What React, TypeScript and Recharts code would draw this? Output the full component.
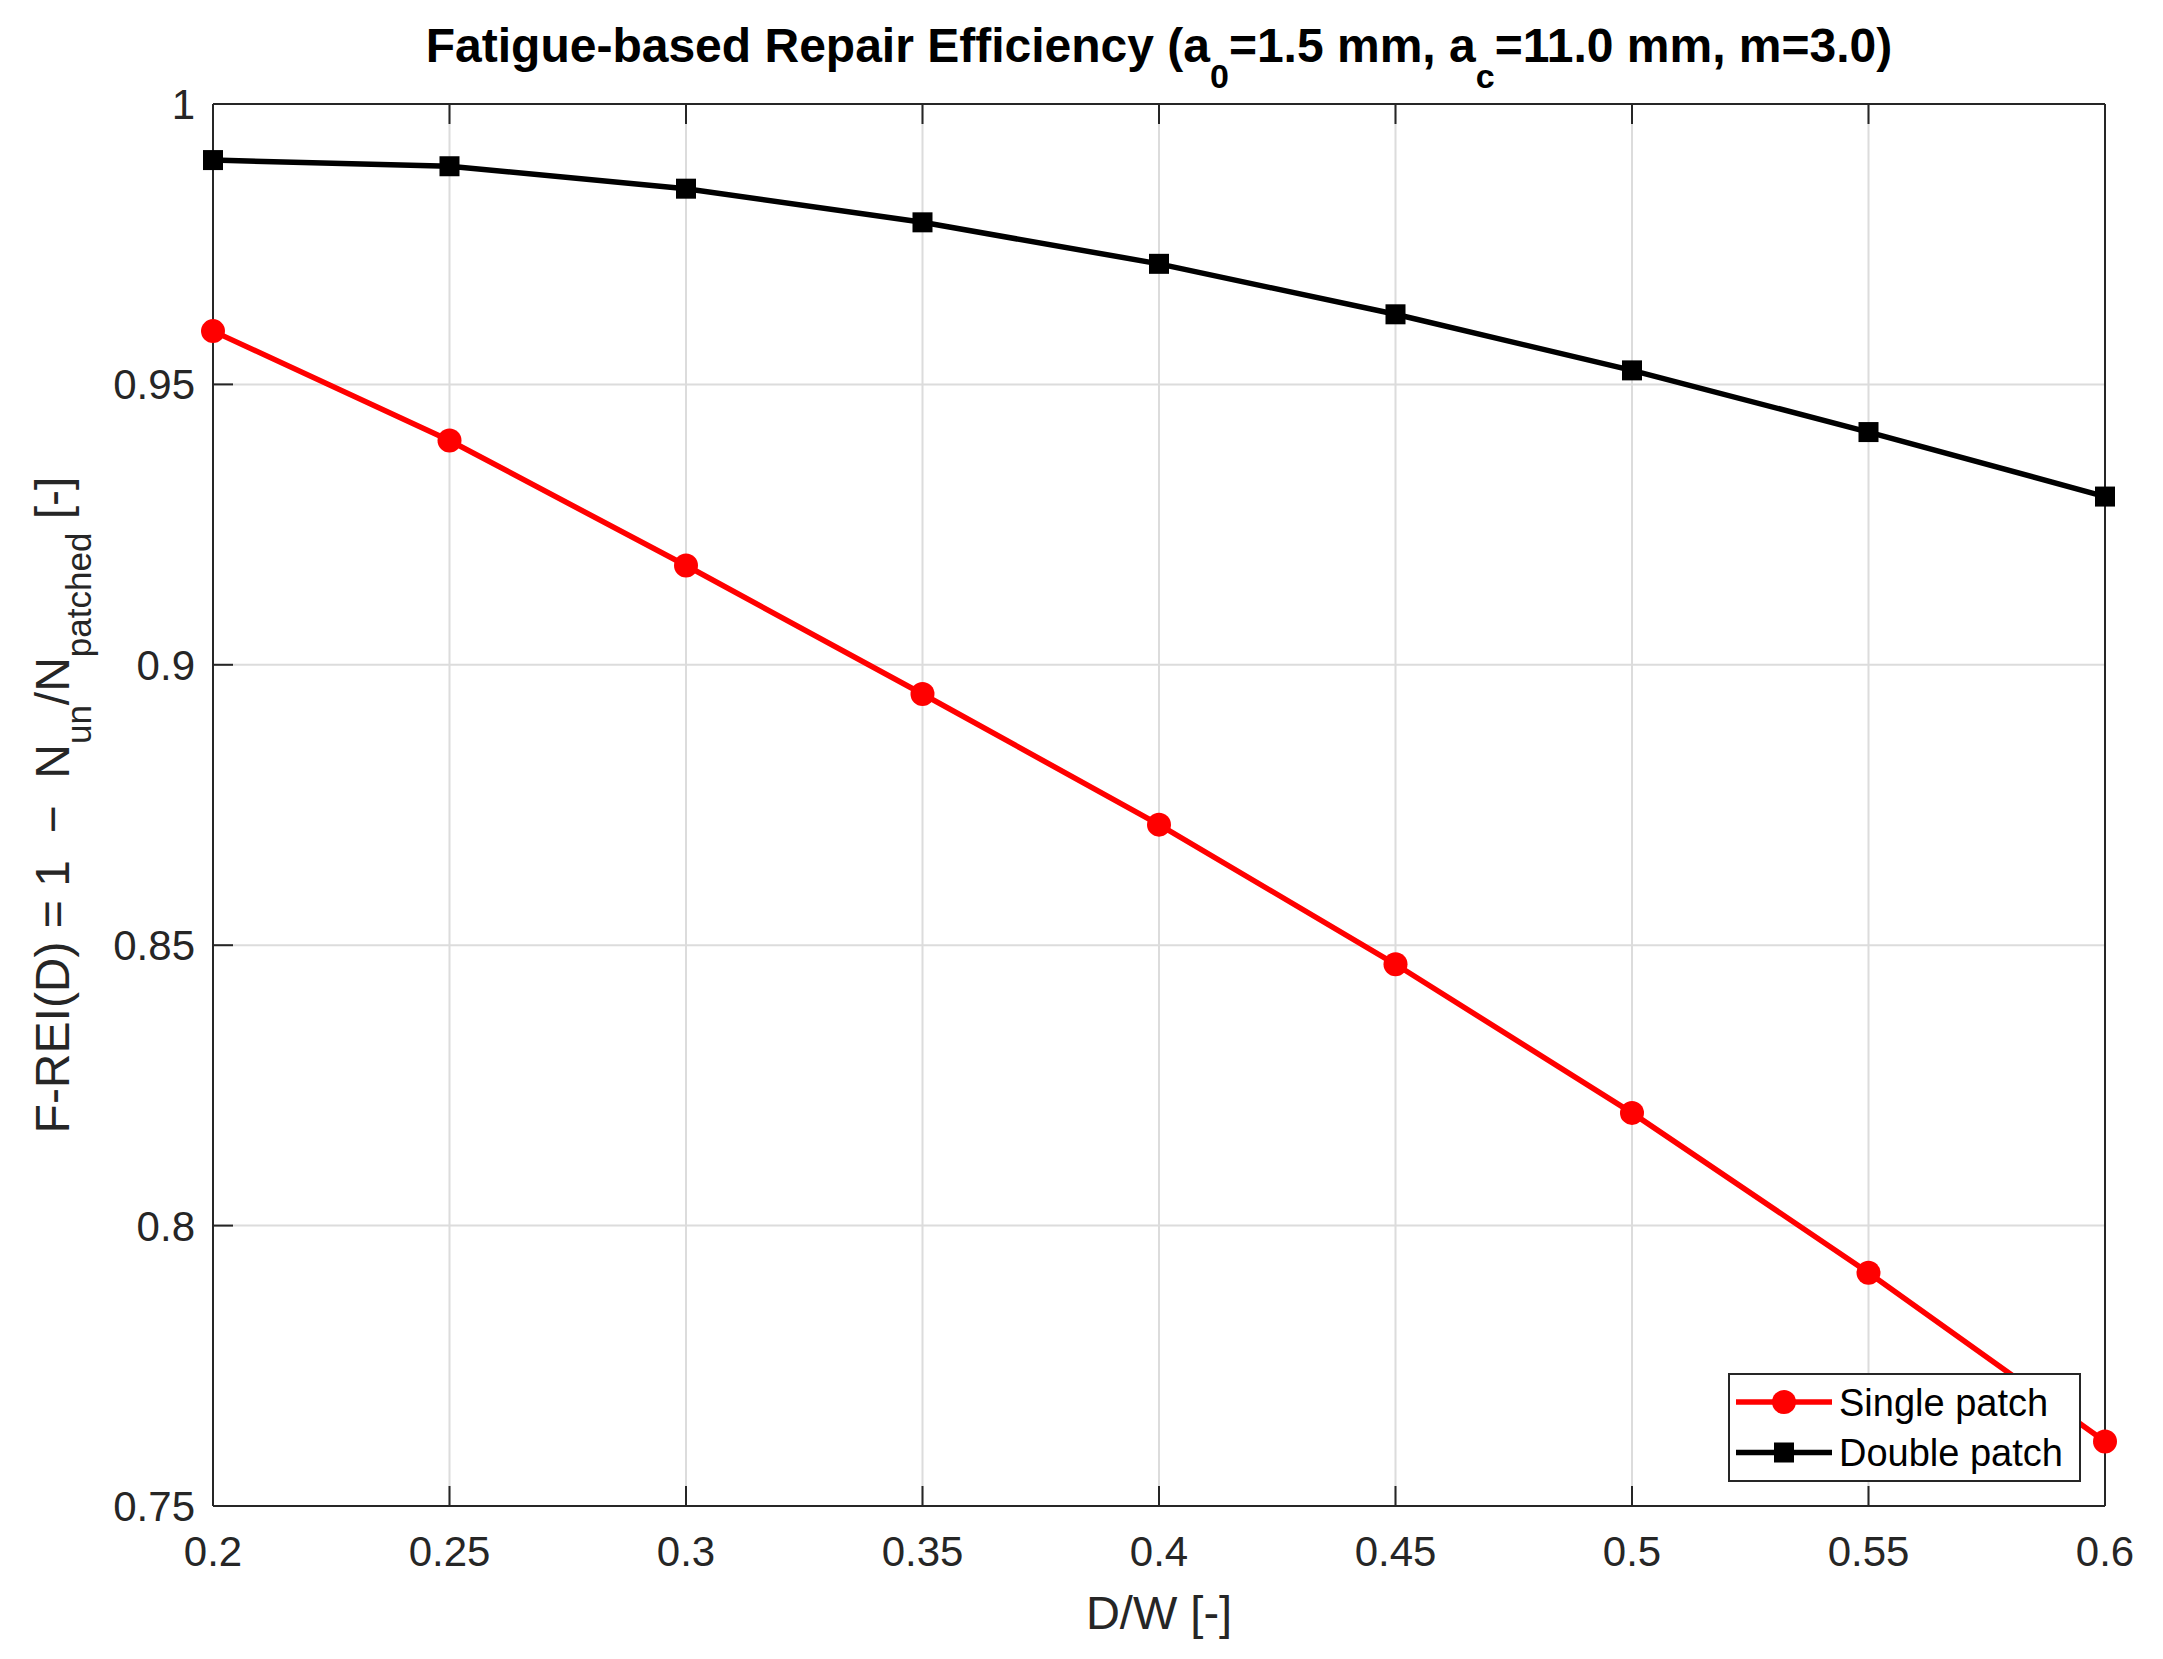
import React from "react";
import { LineChart, Line, XAxis, YAxis, CartesianGrid, Legend, Label } from "recharts";

// D/W ratio and fatigue repair efficiency
const dwValues = [0.2, 0.25, 0.3, 0.35, 0.4, 0.45, 0.5, 0.55, 0.6];
const singlePatch = [0.9595, 0.94, 0.9177, 0.8948, 0.8715, 0.8466, 0.8201, 0.7916, 0.7615];
const doublePatch = [0.99, 0.9889, 0.9849, 0.9789, 0.9715, 0.9625, 0.9525, 0.9415, 0.93];
const seriesNames = ["Single patch", "Double patch"];

const xTicks = [0.2, 0.25, 0.3, 0.35, 0.4, 0.45, 0.5, 0.55, 0.6];
const yTicks = [0.75, 0.8, 0.85, 0.9, 0.95, 1];

const data = dwValues.map((dw, i) => ({ dw, single: singlePatch[i], double: doublePatch[i] }));

const FONT = '"Liberation Sans", Arial, Helvetica, sans-serif';
const AXIS = "#262626";
const TICK_LEN = 20;
const RED = "#ff0000";
const BLACK = "#000000";

const BottomTick = (props: any) => {
  const { x, y, payload } = props;
  return (
    <g>
      <line x1={x} x2={x} y1={y} y2={y - TICK_LEN} stroke={AXIS} strokeWidth={2} />
      <text x={x} y={y + 60} textAnchor="middle" fontSize={42} fontFamily={FONT} fill={AXIS}>
        {String(payload.value)}
      </text>
    </g>
  );
};

const TopTick = (props: any) => {
  const { x, y } = props;
  return <line x1={x} x2={x} y1={y} y2={y + TICK_LEN} stroke={AXIS} strokeWidth={2} />;
};

const LeftTick = (props: any) => {
  const { x, y, payload } = props;
  return (
    <g>
      <line x1={x} x2={x + TICK_LEN} y1={y} y2={y} stroke={AXIS} strokeWidth={2} />
      <text x={x - 18} y={y + 15} textAnchor="end" fontSize={42} fontFamily={FONT} fill={AXIS}>
        {String(payload.value)}
      </text>
    </g>
  );
};

const RightTick = (props: any) => {
  const { x, y } = props;
  return <line x1={x - TICK_LEN} x2={x} y1={y} y2={y} stroke={AXIS} strokeWidth={2} />;
};

const SquareDot = (props: any) => {
  const { cx, cy, index } = props;
  return <rect key={`sq-${index}`} x={cx - 10} y={cy - 10} width={20} height={20} fill={BLACK} />;
};

const TitleLabel = (props: any) => {
  const vb = props.viewBox;
  const cx = vb.x + vb.width / 2;
  return (
    <text x={cx} y={vb.y - 38} textAnchor="middle" fontSize={48} fontWeight="bold" fontFamily={FONT} fill={BLACK} xmlSpace="preserve">
      {"Fatigue-based Repair Efficiency (a"}
      <tspan dy={26} fontSize={34}>0</tspan>
      <tspan dy={-26}>{"=1.5 mm, a"}</tspan>
      <tspan dy={26} fontSize={34}>c</tspan>
      <tspan dy={-26}>{"=11.0 mm, m=3.0)"}</tspan>
    </text>
  );
};

const XAxisTitle = (props: any) => {
  const vb = props.viewBox;
  return (
    <text x={vb.x + vb.width / 2} y={1629} textAnchor="middle" fontSize={47} fontFamily={FONT} fill={AXIS}>
      D/W [-]
    </text>
  );
};

const YAxisTitle = (props: any) => {
  const vb = props.viewBox;
  const cx = vb.x + 56;
  const cy = vb.y + vb.height / 2;
  return (
    <text
      x={cx}
      y={cy}
      transform={`rotate(-90, ${cx}, ${cy})`}
      textAnchor="middle"
      fontSize={48}
      fontFamily={FONT}
      fill={AXIS}
      xmlSpace="preserve"
      style={{ whiteSpace: "pre" }}
    >
      {"F-REI(D) = 1  \u2212  N"}
      <tspan dy={22} fontSize={35}>un</tspan>
      <tspan dy={-22}>/N</tspan>
      <tspan dy={22} fontSize={35}>patched</tspan>
      <tspan dy={-22}>{" [-]"}</tspan>
    </text>
  );
};

const renderLegend = (props: any) => {
  const items = [...(props.payload ?? [])].sort(
    (a: any, b: any) => seriesNames.indexOf(a.value) - seriesNames.indexOf(b.value)
  );
  return (
    <svg width={353} height={109} style={{ display: "block" }}>
      <rect x={1} y={1} width={351} height={107} fill="#ffffff" stroke={AXIS} strokeWidth={2} />
      {items.map((item: any, i: number) => {
        const cy = 29 + i * 50.5;
        const isSingle = item.dataKey === "single";
        return (
          <g key={item.value}>
            <line x1={8} x2={104} y1={cy} y2={cy} stroke={item.color} strokeWidth={5.5} />
            {isSingle ? (
              <circle cx={56} cy={cy} r={12} fill={item.color} />
            ) : (
              <rect x={46} y={cy - 10} width={20} height={20} fill={item.color} />
            )}
            <text x={111} y={cy + 13.5} fontSize={38} fontFamily={FONT} fill={BLACK}>
              {item.value}
            </text>
          </g>
        );
      })}
    </svg>
  );
};

export default function App() {
  return (
    <div style={{ position: "absolute", left: 0, top: 0, width: 2163, height: 1659, background: "#ffffff" }}>
      <LineChart width={2163} height={1659} data={data} margin={{ top: 100, right: 54, bottom: 53, left: 13 }}>
        <CartesianGrid xAxisId="bottom" yAxisId="left" stroke="#dcdcdc" strokeWidth={2} />
        <XAxis
          xAxisId="bottom"
          dataKey="dw"
          type="number"
          domain={[0.2, 0.6]}
          ticks={xTicks}
          interval={0}
          height={100}
          tickLine={false}
          tickSize={0}
          tickMargin={0}
          axisLine={{ stroke: AXIS, strokeWidth: 2 }}
          tick={<BottomTick />}
        >
          <Label content={<XAxisTitle />} />
        </XAxis>
        <XAxis
          xAxisId="top"
          orientation="top"
          dataKey="dw"
          type="number"
          domain={[0.2, 0.6]}
          ticks={xTicks}
          interval={0}
          height={4}
          tickLine={false}
          tickSize={0}
          tickMargin={0}
          axisLine={{ stroke: AXIS, strokeWidth: 2 }}
          tick={<TopTick />}
        >
          <Label content={<TitleLabel />} />
        </XAxis>
        <YAxis
          yAxisId="left"
          type="number"
          domain={[0.75, 1]}
          ticks={yTicks}
          interval={0}
          width={200}
          tickLine={false}
          tickSize={0}
          tickMargin={0}
          axisLine={{ stroke: AXIS, strokeWidth: 2 }}
          tick={<LeftTick />}
        >
          <Label content={<YAxisTitle />} />
        </YAxis>
        <YAxis
          yAxisId="right"
          orientation="right"
          type="number"
          domain={[0.75, 1]}
          ticks={yTicks}
          interval={0}
          width={4}
          tickLine={false}
          tickSize={0}
          tickMargin={0}
          axisLine={{ stroke: AXIS, strokeWidth: 2 }}
          tick={<RightTick />}
        />
        <Line
          xAxisId="bottom"
          yAxisId="left"
          type="linear"
          dataKey="single"
          name={seriesNames[0]}
          stroke={RED}
          strokeWidth={5.5}
          dot={{ r: 12, fill: RED, stroke: RED, strokeWidth: 0 }}
          activeDot={false}
          isAnimationActive={false}
        />
        <Line
          xAxisId="bottom"
          yAxisId="left"
          type="linear"
          dataKey="double"
          name={seriesNames[1]}
          stroke={BLACK}
          strokeWidth={5.5}
          dot={<SquareDot />}
          activeDot={false}
          isAnimationActive={false}
        />
        <Legend
          layout="vertical"
          align="center"
          verticalAlign="middle"
          content={renderLegend}
          wrapperStyle={{ position: "absolute", left: 1728, top: 1373, width: 353, height: 109 }}
        />
      </LineChart>
    </div>
  );
}
